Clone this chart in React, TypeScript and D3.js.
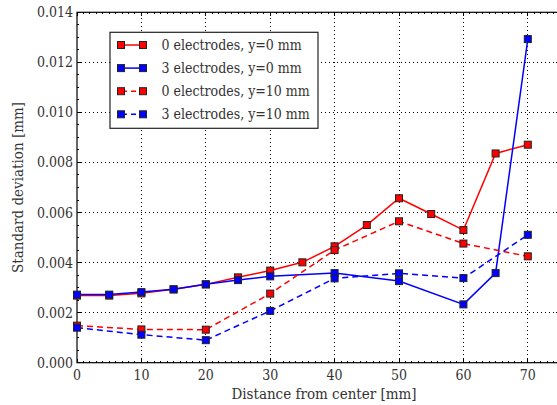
import React, { useRef, useEffect } from "react";
import * as d3 from "d3";

// data
const distA = [0, 5, 10, 15, 20, 25, 30, 35, 40, 45, 50, 55, 60, 65, 70];
const red0 = [0.00268, 0.00268, 0.00277, 0.00293, 0.00313, 0.00341, 0.00368, 0.00401, 0.00465, 0.0055, 0.00657, 0.00594, 0.0053, 0.00836, 0.00871];
const distB = [0, 5, 10, 15, 20, 25, 30, 40, 50, 60, 65, 70];
const blue0 = [0.00272, 0.00272, 0.00282, 0.00293, 0.00313, 0.0033, 0.00345, 0.00358, 0.00326, 0.00233, 0.00358, 0.01293];
const distC = [0, 10, 20, 30, 40, 50, 60, 70];
const red10 = [0.00148, 0.00133, 0.00132, 0.00276, 0.0045, 0.00565, 0.00476, 0.00425];
const blue10 = [0.0014, 0.00112, 0.0009, 0.00207, 0.00337, 0.00357, 0.00338, 0.00511];

const xTicks = [0, 10, 20, 30, 40, 50, 60, 70];
const yTicks = [0, 0.002, 0.004, 0.006, 0.008, 0.01, 0.012, 0.014];

const series = [
  { label: "0 electrodes, y=0 mm", xs: distA, ys: red0, color: "#ff0000", dash: null },
  { label: "3 electrodes, y=0 mm", xs: distB, ys: blue0, color: "#0000ff", dash: null },
  { label: "0 electrodes, y=10 mm", xs: distC, ys: red10, color: "#ff0000", dash: "6,4" },
  { label: "3 electrodes, y=10 mm", xs: distC, ys: blue10, color: "#0000ff", dash: "6,4" },
];

const W = 557,
  H = 405;
const font = "DejaVu Serif";

export default function App() {
  const svgRef = useRef<SVGSVGElement>(null);

  useEffect(() => {
    const svg = d3.select(svgRef.current);
    svg.selectAll("*").remove();
    const left = 77,
      right = 560,
      top = 12.3,
      bottom = 362.7;

    const x = d3.scaleLinear().domain([0, 75]).range([left, right]);
    const y = d3.scaleLinear().domain([0, 0.014]).range([bottom, top]);

    svg.append("rect").attr("width", W).attr("height", H).attr("fill", "white");

    // grid
    const grid = svg.append("g").attr("stroke", "#000").attr("stroke-width", 1).attr("stroke-dasharray", "1,3");
    xTicks.slice(1).forEach((t) => {
      grid.append("line").attr("x1", x(t)).attr("x2", x(t)).attr("y1", bottom).attr("y2", top).attr("shape-rendering", "crispEdges");
    });
    yTicks.slice(1, -1).forEach((t) => {
      grid.append("line").attr("x1", left).attr("x2", right).attr("y1", y(t)).attr("y2", y(t)).attr("shape-rendering", "crispEdges");
    });

    // minor + major ticks, inside, on all sides
    const ticks = svg.append("g").attr("stroke", "#000").attr("stroke-width", 1).attr("shape-rendering", "crispEdges");
    d3.range(0, 76, 1).forEach((t) => {
      const len = t % 10 === 0 ? 4 : 2;
      ticks.append("line").attr("x1", x(t)).attr("x2", x(t)).attr("y1", bottom).attr("y2", bottom - len);
      ticks.append("line").attr("x1", x(t)).attr("x2", x(t)).attr("y1", top).attr("y2", top + len);
    });
    d3.range(0, 0.01401, 0.0005).forEach((t, i) => {
      const len = i % 4 === 0 ? 4 : 2;
      ticks.append("line").attr("x1", left).attr("x2", left + len).attr("y1", y(t)).attr("y2", y(t));
      ticks.append("line").attr("x1", right).attr("x2", right - len).attr("y1", y(t)).attr("y2", y(t));
    });

    // spines
    svg.append("rect").attr("x", left).attr("y", top).attr("width", right - left).attr("height", bottom - top)
      .attr("fill", "none").attr("stroke", "#000").attr("stroke-width", 1.2);

    const txt = (sel: any, size = 14) =>
      sel.attr("font-family", font).attr("font-stretch", "condensed").attr("font-size", size).attr("fill", "#333");

    // tick labels
    txt(svg.append("g").selectAll("text").data(xTicks).join("text")
      .attr("x", (d) => x(d)).attr("y", bottom + 17.5).attr("text-anchor", "middle"))
      .text((d: number) => d);
    txt(svg.append("g").selectAll("text").data(yTicks).join("text")
      .attr("x", left - 4).attr("y", (d) => y(d) + 5).attr("text-anchor", "end"))
      .text((d: number) => d3.format(".3f")(d));

    // axis labels
    txt(svg.append("text").attr("x", 324).attr("y", 399).attr("text-anchor", "middle"), 15).text("Distance from center [mm]");
    txt(svg.append("text").attr("transform", `translate(23,${(top + bottom) / 2}) rotate(-90)`).attr("text-anchor", "middle"), 15)
      .text("Standard deviation [mm]");

    // series
    const line = d3.line<[number, number]>().x((d) => x(d[0])).y((d) => y(d[1]));
    const ms = 7;
    series.forEach((s) => {
      const pts: [number, number][] = s.xs.map((v, i) => [v, s.ys[i]]);
      const g = svg.append("g");
      g.append("path").datum(pts).attr("d", line).attr("fill", "none").attr("stroke", s.color)
        .attr("stroke-width", 1.5).attr("stroke-dasharray", s.dash);
      g.selectAll("rect").data(pts).join("rect")
        .attr("x", (d) => x(d[0]) - ms / 2).attr("y", (d) => y(d[1]) - ms / 2)
        .attr("width", ms).attr("height", ms).attr("fill", s.color).attr("stroke", "#222").attr("stroke-width", 1);
    });

    // legend
    const lg = svg.append("g");
    lg.append("rect").attr("x", 110).attr("y", 32.3).attr("width", 208).attr("height", 96)
      .attr("fill", "white").attr("stroke", "#222").attr("stroke-width", 1.2);
    series.forEach((s, i) => {
      const cy = 45 + i * 23.1;
      lg.append("line").attr("x1", 121).attr("x2", 143).attr("y1", cy).attr("y2", cy)
        .attr("stroke", s.color).attr("stroke-width", 1.5).attr("stroke-dasharray", s.dash ? "5,4" : null)
        .attr("stroke-dashoffset", s.dash ? -1 : null);
      [121, 143].forEach((cx) => {
        lg.append("rect").attr("x", cx - ms / 2).attr("y", cy - ms / 2).attr("width", ms).attr("height", ms)
          .attr("fill", s.color).attr("stroke", "#222").attr("stroke-width", 1);
      });
      txt(lg.append("text").attr("x", 161.5).attr("y", cy + 5)).text(s.label);
    });
  }, []);

  return <svg ref={svgRef} width={W} height={H} style={{ position: "absolute", left: 0, top: 0 }}></svg>;
}
